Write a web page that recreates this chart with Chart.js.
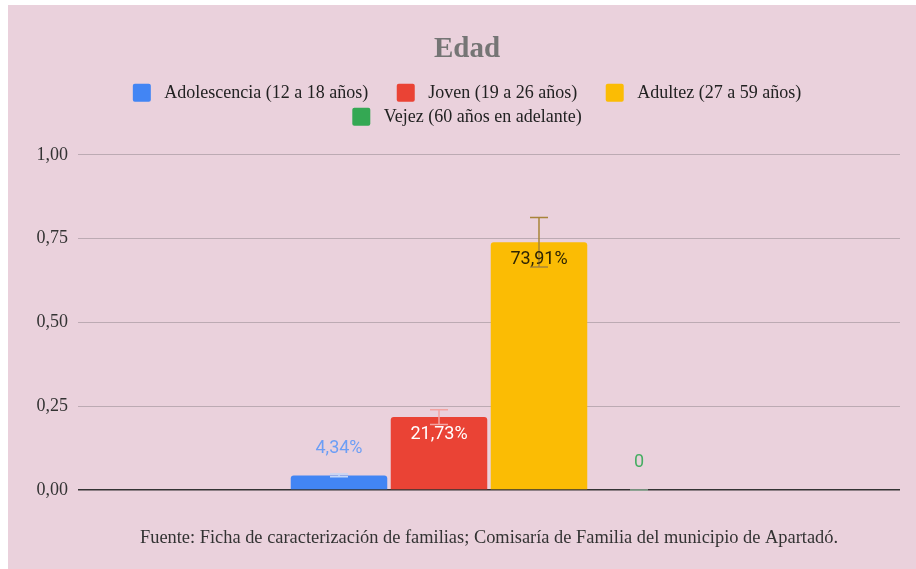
<!DOCTYPE html>
<html>
<head>
<meta charset="utf-8">
<script src="https://cdn.jsdelivr.net/npm/chart.js@4.4.0/dist/chart.umd.min.js"></script>
<style>
  html, body { margin:0; padding:0; background:#fff; }
  #wrap { position:absolute; left:8px; top:5px; width:908px; height:564px; background:#ead1dc; }
</style>
</head>
<body>
<div id="wrap"><canvas id="edadChart"></canvas></div>
<script>
// data
const categories = [''];
const seriesNames = ['Adolescencia (12 a 18 años)', 'Joven (19 a 26 años)', 'Adultez (27 a 59 años)', 'Vejez (60 años en adelante)'];
const seriesValues = [0.0434, 0.2173, 0.7391, 0];
const errorValues = [0.00434, 0.02173, 0.07391, 0];
const yTicks = [0, 0.25, 0.5, 0.75, 1];
const chartTitle = 'Edad';
const footerText = 'Fuente: Ficha de caracterización de familias; Comisaría de Familia del municipio de Apartadó.';

const seriesColors = ['#4285f4', '#ea4335', '#fbbc04', '#34a853'];
const labelColors = ['#6c9ef5', '#ffffff', '#2e2504', '#46ad62'];
const errorColors = ['#c2d6f7', '#f2a4a2', '#a8843a', '#8fae98'];

const serif = "'Liberation Serif', 'Times New Roman', serif";

function fmtPct(v){
  if(v === 0) return '0';
  return (v*100).toFixed(2).replace('.', ',') + '%';
}

const errorBars = {
  id:'errorBars',
  afterDatasetsDraw(chart){
    const ctx = chart.ctx;
    const y = chart.scales.y;
    chart.data.datasets.forEach((ds, i)=>{
      const el = chart.getDatasetMeta(i).data[0];
      const v = ds.data[0], e = errorValues[i];
      const top = y.getPixelForValue(v + e), bot = y.getPixelForValue(v - e);
      ctx.save();
      ctx.strokeStyle = errorColors[i];
      ctx.lineWidth = 1.5;
      ctx.beginPath();
      ctx.moveTo(el.x, top); ctx.lineTo(el.x, bot);
      ctx.moveTo(el.x - 9, top); ctx.lineTo(el.x + 9, top);
      ctx.moveTo(el.x - 9, bot); ctx.lineTo(el.x + 9, bot);
      ctx.stroke();
      ctx.restore();
    });
  }
};

const valueLabels = {
  id:'valueLabels',
  afterDatasetsDraw(chart){
    const ctx = chart.ctx;
    const y = chart.scales.y;
    chart.data.datasets.forEach((ds, i)=>{
      const el = chart.getDatasetMeta(i).data[0];
      const h = y.getPixelForValue(0) - el.y;
      const cy = h > 40 ? el.y + 17 : el.y - 27;
      ctx.save();
      ctx.font = "18px Roboto, sans-serif";
      ctx.fillStyle = labelColors[i];
      ctx.textAlign = 'center';
      ctx.textBaseline = 'middle';
      ctx.fillText(fmtPct(ds.data[0]), el.x, cy);
      ctx.restore();
    });
  }
};

const ctx = document.getElementById('edadChart').getContext('2d');
const edadChart = new Chart(ctx, {
  type:'bar',
  data:{
    labels: categories,
    datasets: seriesNames.map((name, i)=>({
      label: name,
      data: [seriesValues[i]],
      backgroundColor: seriesColors[i],
      borderRadius: {topLeft:3, topRight:3},
      borderSkipped: 'start',
      categoryPercentage: 0.4866,
      barPercentage: 0.965
    }))
  },
  options:{
    responsive:true,
    maintainAspectRatio:false,
    animation:false,
    layout:{ padding:{left:26, right:16, top:0, bottom:0} },
    plugins:{
      tooltip:{enabled:false},
      title:{
        display:true, text:chartTitle, color:'#757575',
        font:{family:serif, size:29, weight:'bold', lineHeight:1.2},
        padding:{top:27, bottom:11}
      },
      subtitle:{
        display:true, text:'', weight:500,
        font:{size:10, lineHeight:1}, padding:{top:0, bottom:9}
      },
      legend:{
        position:'top',
        labels:{
          boxWidth:18, boxHeight:18, padding:6, color:'#222',
          font:{family:serif, size:18},
          generateLabels(chart){
            const items = Chart.defaults.plugins.legend.labels.generateLabels(chart);
            items.forEach((it, i)=>{
              it.text = ' ' + it.text + (i < 2 ? '     ' : '');
              it.borderRadius = 2;
              it.lineWidth = 0;
            });
            return items;
          }
        }
      }
    },
    scales:{
      x:{
        ticks:{display:false},
        grid:{display:false, drawTicks:false},
        border:{display:false},
        title:{
          display:true, text:footerText, color:'#333',
          font:{family:serif, size:18.4, lineHeight:1.2},
          padding:{top:37, bottom:20}
        }
      },
      y:{
        min:0, max:1,
        afterBuildTicks(scale){ scale.ticks = yTicks.map(v=>({value:v})); },
        afterFit(scale){ scale.width = 44; },
        ticks:{
          padding:10, color:'#333',
          font:{family:serif, size:18},
          callback:(v)=>v.toFixed(2).replace('.', ',')
        },
        grid:{
          drawTicks:false,
          color:(c)=>c.tick && c.tick.value === 0 ? '#333' : '#bcaab3',
          lineWidth:(c)=>c.tick && c.tick.value === 0 ? 1.5 : 1
        },
        border:{display:false}
      }
    }
  },
  plugins:[errorBars, valueLabels]
});
</script>
</body>
</html>
